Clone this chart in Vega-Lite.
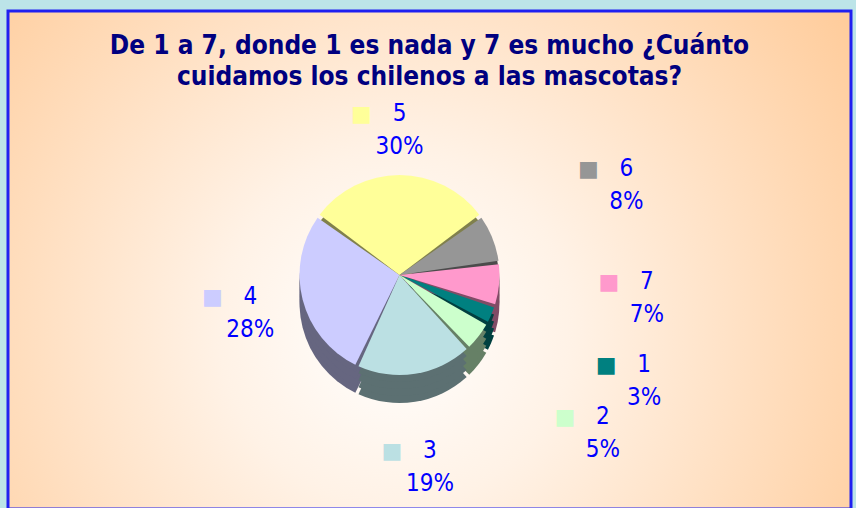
{
  "$schema": "https://vega.github.io/schema/vega-lite/v6.json",
  "width": 856,
  "height": 508,
  "autosize": {"type": "fit", "contains": "padding"},
  "padding": {"left": 6, "top": 9, "right": 3, "bottom": -3},
  "background": "#BCE4E8",
  "config": {"view": {"stroke": null}},
  "title": {
    "text": ["De 1 a 7, donde 1 es nada y 7 es mucho ¿Cuánto", "cuidamos los chilenos a las mascotas?"],
    "font": "DejaVu Sans Condensed, Liberation Sans Narrow, DejaVu Sans",
    "fontSize": 26,
    "fontWeight": "bold",
    "color": "#000080",
    "anchor": "middle",
    "frame": "group",
    "orient": "top",
    "offset": -80,
    "lineHeight": 31
  },
  "data": {
    "values": [
      {"cat": "1", "pct": 0.03},
      {"cat": "2", "pct": 0.05},
      {"cat": "3", "pct": 0.19},
      {"cat": "4", "pct": 0.28},
      {"cat": "5", "pct": 0.30},
      {"cat": "6", "pct": 0.08},
      {"cat": "7", "pct": 0.07}
    ]
  },
  "layer": [
    {
      "data": {"values": [{}]},
      "mark": {
        "type": "rect",
        "stroke": "#2020F0",
        "strokeWidth": 3,
        "color": {
          "gradient": "radial",
          "x1": 0.46, "y1": 0.58, "r1": 0,
          "x2": 0.46, "y2": 0.58, "r2": 0.7,
          "stops": [
            {"offset": 0, "color": "#FFFFFF"},
            {"offset": 0.3, "color": "#FFF2E6"},
            {"offset": 1, "color": "#FFC893"}
          ]
        }
      },
      "encoding": {}
    },
    {
      "mark": {"type": "arc", "outerRadius": 100, "padAngle": 0.035, "xOffset": -30, "yOffset": 43},
      "encoding": {
        "theta": {"field": "pct", "type": "quantitative", "stack": true, "scale": {"range": [1.885, 8.168]}},
        "order": {"field": "cat"},
        "color": {"field": "cat", "type": "nominal", "legend": null, "scale": {"domain": ["1","2","3","4","5","6","7"], "range": ["#004040","#668066","#5C7072","#666680","#80804C","#4B4B4B","#804C66"]}}
      }
    },
    {
      "mark": {"type": "arc", "outerRadius": 100, "padAngle": 0.035, "xOffset": -30, "yOffset": 36},
      "encoding": {
        "theta": {"field": "pct", "type": "quantitative", "stack": true, "scale": {"range": [1.885, 8.168]}},
        "order": {"field": "cat"},
        "color": {"field": "cat", "type": "nominal", "legend": null, "scale": {"domain": ["1","2","3","4","5","6","7"], "range": ["#004040","#668066","#5C7072","#666680","#80804C","#4B4B4B","#804C66"]}}
      }
    },
    {
      "mark": {"type": "arc", "outerRadius": 100, "padAngle": 0.035, "xOffset": -30, "yOffset": 29},
      "encoding": {
        "theta": {"field": "pct", "type": "quantitative", "stack": true, "scale": {"range": [1.885, 8.168]}},
        "order": {"field": "cat"},
        "color": {"field": "cat", "type": "nominal", "legend": null, "scale": {"domain": ["1","2","3","4","5","6","7"], "range": ["#004040","#668066","#5C7072","#666680","#80804C","#4B4B4B","#804C66"]}}
      }
    },
    {
      "mark": {"type": "arc", "outerRadius": 100, "padAngle": 0.035, "xOffset": -30, "yOffset": 22},
      "encoding": {
        "theta": {"field": "pct", "type": "quantitative", "stack": true, "scale": {"range": [1.885, 8.168]}},
        "order": {"field": "cat"},
        "color": {"field": "cat", "type": "nominal", "legend": null, "scale": {"domain": ["1","2","3","4","5","6","7"], "range": ["#004040","#668066","#5C7072","#666680","#80804C","#4B4B4B","#804C66"]}}
      }
    },
    {
      "mark": {"type": "arc", "outerRadius": 100, "padAngle": 0.035, "xOffset": -30, "yOffset": 15},
      "encoding": {
        "theta": {"field": "pct", "type": "quantitative", "stack": true, "scale": {"range": [1.885, 8.168]}},
        "order": {"field": "cat"},
        "color": {"field": "cat", "type": "nominal", "legend": null, "scale": {"domain": ["1","2","3","4","5","6","7"], "range": ["#008080","#CCFFCC","#BBE0E3","#CCCCFF","#FFFF99","#969696","#FF99CC"]}}
      }
    },
    {
      "mark": {"type": "text", "text": "■", "fontSize": 22, "font": "DejaVu Sans", "xOffset": -30, "yOffset": 15, "dx": -38, "dy": -16, "baseline": "middle"},
      "encoding": {
        "theta": {"field": "pct", "type": "quantitative", "stack": true, "scale": {"range": [1.885, 8.168]}},
        "radius": {"field": "pct", "type": "quantitative", "scale": {"type": "linear", "domain": [0, 0.30], "range": [280, 145], "nice": false, "zero": false}},
        "order": {"field": "cat"},
        "color": {"field": "cat", "type": "nominal", "legend": null, "scale": {"domain": ["1","2","3","4","5","6","7"], "range": ["#008080","#CCFFCC","#BBE0E3","#CCCCFF","#FFFF99","#969696","#FF99CC"]}}
      }
    },
    {
      "mark": {"type": "text", "fontSize": 24, "font": "DejaVu Sans Condensed, Liberation Sans Narrow, DejaVu Sans", "color": "#0000FF", "xOffset": -30, "yOffset": 15, "dy": -16, "baseline": "middle"},
      "encoding": {
        "theta": {"field": "pct", "type": "quantitative", "stack": true, "scale": {"range": [1.885, 8.168]}},
        "radius": {"field": "pct", "type": "quantitative", "scale": {"type": "linear", "domain": [0, 0.30], "range": [280, 145], "nice": false, "zero": false}},
        "order": {"field": "cat"},
        "text": {"field": "cat", "type": "nominal"}
      }
    },
    {
      "mark": {"type": "text", "fontSize": 24, "font": "DejaVu Sans Condensed, Liberation Sans Narrow, DejaVu Sans", "color": "#0000FF", "xOffset": -30, "yOffset": 15, "dy": 17, "baseline": "middle"},
      "encoding": {
        "theta": {"field": "pct", "type": "quantitative", "stack": true, "scale": {"range": [1.885, 8.168]}},
        "radius": {"field": "pct", "type": "quantitative", "scale": {"type": "linear", "domain": [0, 0.30], "range": [280, 145], "nice": false, "zero": false}},
        "order": {"field": "cat"},
        "text": {"field": "pct", "type": "quantitative", "format": ".0%"}
      }
    }
  ],
  "resolve": {"scale": {"color": "independent"}}
}
